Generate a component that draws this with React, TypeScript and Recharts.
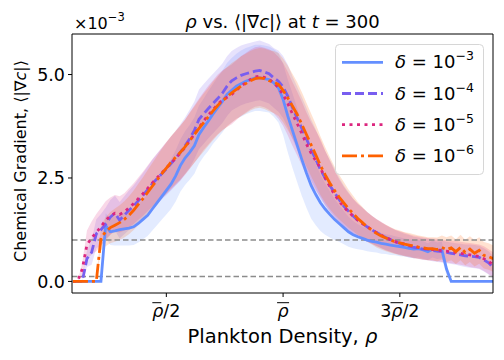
import React from "react";
import { ComposedChart, Line, Area, XAxis, YAxis, ReferenceLine } from "recharts";

// Plankton density in units of rho-bar
const rho = [
  0.10, 0.12, 0.14, 0.16, 0.18, 0.20, 0.22, 0.24, 0.26, 0.28,
  0.30, 0.32, 0.34, 0.36, 0.38, 0.40, 0.42, 0.44, 0.46, 0.48,
  0.50, 0.52, 0.54, 0.56, 0.58, 0.60, 0.62, 0.64, 0.66, 0.68,
  0.70, 0.72, 0.74, 0.76, 0.78, 0.80, 0.82, 0.84, 0.86, 0.88,
  0.90, 0.92, 0.94, 0.96, 0.98, 1.00, 1.02, 1.04, 1.06, 1.08,
  1.10, 1.12, 1.14, 1.16, 1.18, 1.20, 1.22, 1.24, 1.26, 1.28,
  1.30, 1.32, 1.34, 1.36, 1.38, 1.40, 1.42, 1.44, 1.46, 1.48,
  1.50, 1.52, 1.54, 1.56, 1.58, 1.60, 1.62, 1.64, 1.66, 1.68,
  1.70, 1.72, 1.74, 1.76, 1.78, 1.80, 1.82, 1.84, 1.86, 1.88,
  1.90,
];

// mean chemical gradient (x 1e-3), delta = 1e-3
const meanD3 = [
  0, 0, 0, 0, 0, 0, 0, 1.35, 1.20, 1.22,
  1.25, 1.27, 1.29, 1.32, 1.40, 1.50, 1.60, 1.75, 1.90, 2.05,
  2.20, 2.35, 2.55, 2.80, 2.98, 3.12, 3.28, 3.55, 3.72, 3.88,
  4.05, 4.20, 4.35, 4.52, 4.62, 4.72, 4.78, 4.84, 4.88, 4.92,
  4.92, 4.90, 4.88, 4.80, 4.68, 4.40, 4.00, 3.65, 3.30, 2.95,
  2.62, 2.32, 2.10, 1.90, 1.75, 1.62, 1.50, 1.40, 1.30, 1.20,
  1.13, 1.08, 1.04, 1.00, 0.97, 0.95, 0.92, 0.90, 0.88, 0.86,
  0.84, 0.82, 0.80, 0.78, 0.79, 0.76, 0.72, 0.78, 0.74, 0.76,
  0.30, 0, 0, 0, 0, 0, 0, 0, 0, 0,
  0,
];
const stdD3 = [
  0, 0, 0, 0, 0, 0, 0, 0.30, 0.32, 0.35,
  0.38, 0.40, 0.42, 0.44, 0.46, 0.48, 0.50, 0.52, 0.54, 0.56,
  0.58, 0.60, 0.62, 0.63, 0.65, 0.66, 0.68, 0.70, 0.70, 0.72,
  0.72, 0.74, 0.75, 0.76, 0.78, 0.78, 0.80, 0.80, 0.80, 0.80,
  0.80, 0.80, 0.80, 0.82, 0.84, 0.86, 0.88, 0.90, 0.90, 0.88,
  0.84, 0.80, 0.74, 0.68, 0.62, 0.56, 0.50, 0.44, 0.40, 0.36,
  0.33, 0.30, 0.28, 0.27, 0.26, 0.25, 0.25, 0.24, 0.24, 0.23,
  0.23, 0.22, 0.22, 0.22, 0.21, 0.21, 0.20, 0.20, 0.20, 0.20,
  0.15, 0, 0, 0, 0, 0, 0, 0, 0, 0,
  0,
];

// delta = 1e-4
const meanD4 = [
  0, 0, 0, 0.55, 0.70, 1.15, 1.25, 1.38, 1.55, 1.65,
  1.48, 1.60, 1.72, 1.82, 1.95, 2.08, 2.22, 2.36, 2.48, 2.60,
  2.72, 2.85, 2.98, 3.12, 3.28, 3.45, 3.65, 3.92, 4.05, 4.18,
  4.30, 4.42, 4.55, 4.72, 4.85, 4.92, 4.98, 5.02, 5.05, 5.08,
  5.10, 5.06, 5.02, 4.92, 4.84, 4.70, 4.48, 4.20, 3.95, 3.70,
  3.45, 3.18, 2.95, 2.70, 2.50, 2.32, 2.15, 1.98, 1.82, 1.70,
  1.58, 1.48, 1.40, 1.32, 1.25, 1.18, 1.12, 1.06, 1.01, 0.96,
  0.92, 0.88, 0.85, 0.82, 0.80, 0.78, 0.77, 0.75, 0.73, 0.72,
  0.70, 0.68, 0.66, 0.64, 0.62, 0.61, 0.60, 0.58, 0.52, 0.45,
  0.33,
];
const stdD4 = [
  0, 0, 0, 0.20, 0.30, 0.35, 0.38, 0.40, 0.42, 0.42,
  0.44, 0.46, 0.48, 0.50, 0.52, 0.54, 0.56, 0.58, 0.60, 0.62,
  0.64, 0.65, 0.66, 0.68, 0.68, 0.70, 0.70, 0.72, 0.72, 0.72,
  0.72, 0.72, 0.72, 0.72, 0.72, 0.72, 0.72, 0.72, 0.72, 0.72,
  0.72, 0.72, 0.72, 0.72, 0.74, 0.75, 0.76, 0.76, 0.76, 0.76,
  0.75, 0.74, 0.72, 0.70, 0.66, 0.62, 0.58, 0.54, 0.50, 0.46,
  0.42, 0.40, 0.38, 0.36, 0.34, 0.32, 0.31, 0.30, 0.29, 0.28,
  0.28, 0.27, 0.27, 0.26, 0.26, 0.26, 0.26, 0.26, 0.26, 0.26,
  0.26, 0.26, 0.26, 0.27, 0.27, 0.28, 0.28, 0.28, 0.28, 0.28,
  0.28,
];

// delta = 1e-5
const meanD5 = [
  0, 0, 0.30, 0.88, 1.05, 1.18, 1.32, 1.48, 1.58, 1.65,
  1.62, 1.68, 1.78, 1.88, 2.00, 2.12, 2.25, 2.38, 2.50, 2.62,
  2.74, 2.86, 2.98, 3.10, 3.24, 3.40, 3.56, 3.72, 3.88, 4.02,
  4.15, 4.28, 4.38, 4.45, 4.52, 4.62, 4.72, 4.80, 4.88, 4.94,
  4.96, 4.93, 4.88, 4.80, 4.68, 4.52, 4.30, 4.05, 3.82, 3.58,
  3.32, 3.10, 2.92, 2.74, 2.50, 2.30, 2.10, 1.94, 1.80, 1.68,
  1.58, 1.48, 1.40, 1.32, 1.25, 1.18, 1.12, 1.06, 1.01, 0.96,
  0.93, 0.90, 0.87, 0.84, 0.82, 0.80, 0.78, 0.77, 0.76, 0.74,
  0.73, 0.71, 0.70, 0.68, 0.66, 0.64, 0.62, 0.60, 0.55, 0.48,
  0.40,
];
const stdD5 = [
  0, 0, 0.15, 0.35, 0.40, 0.45, 0.46, 0.46, 0.45, 0.44,
  0.44, 0.45, 0.47, 0.49, 0.51, 0.53, 0.55, 0.57, 0.59, 0.61,
  0.63, 0.64, 0.65, 0.66, 0.67, 0.68, 0.69, 0.70, 0.70, 0.71,
  0.71, 0.72, 0.72, 0.72, 0.72, 0.72, 0.72, 0.72, 0.72, 0.72,
  0.72, 0.72, 0.73, 0.74, 0.75, 0.76, 0.77, 0.77, 0.77, 0.77,
  0.76, 0.75, 0.73, 0.70, 0.66, 0.62, 0.58, 0.53, 0.49, 0.45,
  0.42, 0.40, 0.38, 0.36, 0.34, 0.33, 0.32, 0.31, 0.30, 0.29,
  0.28, 0.28, 0.27, 0.27, 0.27, 0.27, 0.27, 0.27, 0.27, 0.27,
  0.27, 0.27, 0.28, 0.28, 0.28, 0.29, 0.29, 0.29, 0.30, 0.30,
  0.30,
];

// delta = 1e-6
const meanD6 = [
  0, 0, 0, 0, 0, 0, 1.05, 1.20, 1.30, 1.36,
  1.42, 1.50, 1.60, 1.72, 1.86, 2.00, 2.15, 2.30, 2.45, 2.60,
  2.74, 2.88, 3.00, 3.12, 3.25, 3.40, 3.55, 3.70, 3.84, 3.98,
  4.12, 4.25, 4.36, 4.46, 4.56, 4.64, 4.72, 4.78, 4.85, 4.90,
  4.92, 4.90, 4.85, 4.82, 4.76, 4.62, 4.44, 4.24, 4.04, 3.80,
  3.55, 3.30, 3.06, 2.80, 2.58, 2.38, 2.20, 2.04, 1.90, 1.76,
  1.64, 1.52, 1.42, 1.32, 1.24, 1.16, 1.10, 1.05, 1.00, 0.96,
  0.93, 0.90, 0.88, 0.85, 0.83, 0.81, 0.79, 0.79, 0.77, 0.82,
  0.77, 0.81, 0.72, 0.82, 0.70, 0.78, 0.68, 0.75, 0.63, 0.60,
  0.55,
];
const stdD6 = [
  0, 0, 0, 0, 0, 0, 0.30, 0.35, 0.38, 0.40,
  0.42, 0.44, 0.46, 0.48, 0.50, 0.52, 0.54, 0.56, 0.58, 0.60,
  0.62, 0.63, 0.64, 0.65, 0.66, 0.67, 0.68, 0.69, 0.70, 0.70,
  0.71, 0.71, 0.72, 0.72, 0.72, 0.72, 0.72, 0.72, 0.72, 0.72,
  0.72, 0.73, 0.74, 0.75, 0.76, 0.77, 0.78, 0.78, 0.78, 0.78,
  0.77, 0.76, 0.74, 0.71, 0.67, 0.63, 0.58, 0.54, 0.50, 0.46,
  0.43, 0.40, 0.38, 0.36, 0.35, 0.34, 0.33, 0.32, 0.31, 0.30,
  0.30, 0.29, 0.29, 0.29, 0.28, 0.28, 0.28, 0.28, 0.29, 0.29,
  0.30, 0.30, 0.30, 0.31, 0.31, 0.31, 0.32, 0.32, 0.32, 0.32,
  0.32,
];

const refLevels = [1.0, 0.12];
const yTicks = [0, 2.5, 5];
const xTicks = [0.5, 1, 1.5];
const exponents = ["−3", "−4", "−5", "−6"];

const X_DOMAIN: [number, number] = [0.096, 1.899];
const Y_DOMAIN: [number, number] = [-0.28, 5.98];
const FONT = "DejaVu Sans";

const series = [
  { key: "d3", color: "#648FFF", dash: undefined as string | undefined, mean: meanD3, std: stdD3 },
  { key: "d4", color: "#785EF0", dash: "9 4", mean: meanD4, std: stdD4 },
  { key: "d5", color: "#DC267F", dash: "3 4.5", mean: meanD5, std: stdD5 },
  { key: "d6", color: "#FE6100", dash: "15 4 3 4", mean: meanD6, std: stdD6 },
];

const data = rho.map((r, i) => {
  const row: Record<string, any> = { rho: r };
  series.forEach((s) => {
    row[s.key] = s.mean[i];
    row[s.key + "Band"] = [s.mean[i] - s.std[i], s.mean[i] + s.std[i]];
  });
  return row;
});

const overlineOffsets: Record<string, [number, number]> = {
  "0.5": [-14, -5],
  "1": [-6, 6],
  "1.5": [-9.3, 3.3],
};

function RhoTick(props: any) {
  const { x, y, payload } = props;
  const v = payload.value;
  const pre = v === 1.5 ? "3" : "";
  const post = v === 1 ? "" : "/2";
  const base = y + 18;
  const off = overlineOffsets[String(v)] || [-6, 6];
  return (
    <g>
      <text x={x} y={base} textAnchor="middle" fontSize={17.5} fontFamily={FONT} fill="#000">
        {pre}
        <tspan fontStyle="italic">ρ</tspan>
        {post}
      </text>
      <line x1={x + off[0]} x2={x + off[1]} y1={base - 14.3} y2={base - 14.3} stroke="#000" strokeWidth={1} />
    </g>
  );
}

export default function App() {
  return (
    <div style={{ position: "absolute", left: 0, top: 0, width: 504, height: 360, background: "#fff" }}>
      <ComposedChart
        width={504}
        height={360}
        data={data}
        margin={{ top: 34, right: 11, bottom: 37, left: 12 }}
      >
        <XAxis
          dataKey="rho"
          type="number"
          domain={X_DOMAIN}
          allowDataOverflow
          ticks={xTicks}
          tick={<RhoTick />}
          tickSize={4}
          height={30}
          stroke="#000"
          interval={0}
        />
        <YAxis
          type="number"
          domain={Y_DOMAIN}
          allowDataOverflow
          ticks={yTicks}
          tickFormatter={(v: number) => v.toFixed(1)}
          tick={{ fontSize: 17.5, fontFamily: FONT, fill: "#000" }}
          tickSize={4}
          tickMargin={3}
          width={60}
          stroke="#000"
          interval={0}
        />
        {series.map((s) => (
          <Area
            key={s.key + "Band"}
            dataKey={s.key + "Band"}
            type="linear"
            stroke="none"
            fill={s.color}
            fillOpacity={0.18}
            isAnimationActive={false}
            dot={false}
            activeDot={false}
          />
        ))}
        {refLevels.map((lv) => (
          <ReferenceLine key={lv} y={lv} stroke="#8c8c8c" strokeWidth={1.5} strokeDasharray="5.5 3" />
        ))}
        {series.map((s) => (
          <Line
            key={s.key}
            dataKey={s.key}
            type="linear"
            stroke={s.color}
            strokeWidth={2.8}
            strokeDasharray={s.dash}
            dot={false}
            activeDot={false}
            isAnimationActive={false}
          />
        ))}
        <ReferenceLine y={Y_DOMAIN[1]} stroke="#000" strokeWidth={1} />
        <ReferenceLine x={X_DOMAIN[1]} stroke="#000" strokeWidth={1} />
      </ComposedChart>
      <svg
        width={504}
        height={360}
        style={{ position: "absolute", left: 0, top: 0, pointerEvents: "none" }}
        fontFamily={FONT}
      >
        <text x={282.5} y={28} textAnchor="middle" fontSize={18} fill="#000">
          <tspan fontStyle="italic">ρ</tspan> vs. ⟨|∇<tspan fontStyle="italic">c</tspan>|⟩ at{" "}
          <tspan fontStyle="italic">t</tspan> = 300
        </text>
        <text x={74} y={29} fontSize={16} fill="#000">
          ×10<tspan fontSize={11.5} dy={-8}>−3</tspan>
        </text>
        <text x={282.5} y={343} textAnchor="middle" fontSize={19.5} fill="#000">
          Plankton Density, <tspan fontStyle="italic">ρ</tspan>
        </text>
        <text transform="rotate(-90)" x={-161} y={26} textAnchor="middle" fontSize={16} fill="#000">
          Chemical Gradient, ⟨|∇<tspan fontStyle="italic">c</tspan>|⟩
        </text>
        <g transform="translate(335,44)">
          <rect x={0.5} y={0.5} width={148} height={130} rx={4} fill="#fff" fillOpacity={0.8} stroke="#d6d6d6" />
          {series.map((s, i) => {
            const cy = 18.3 + i * 31.2;
            return (
              <g key={s.key}>
                <line x1={7} x2={48} y1={cy} y2={cy} stroke={s.color} strokeWidth={2.8} strokeDasharray={s.dash} />
                <text x={60} y={cy + 6} fontSize={18} fill="#000">
                  <tspan fontStyle="italic">δ</tspan> = 10
                  <tspan fontSize={12.5} dy={-8}>{exponents[i]}</tspan>
                </text>
              </g>
            );
          })}
        </g>
      </svg>
    </div>
  );
}
